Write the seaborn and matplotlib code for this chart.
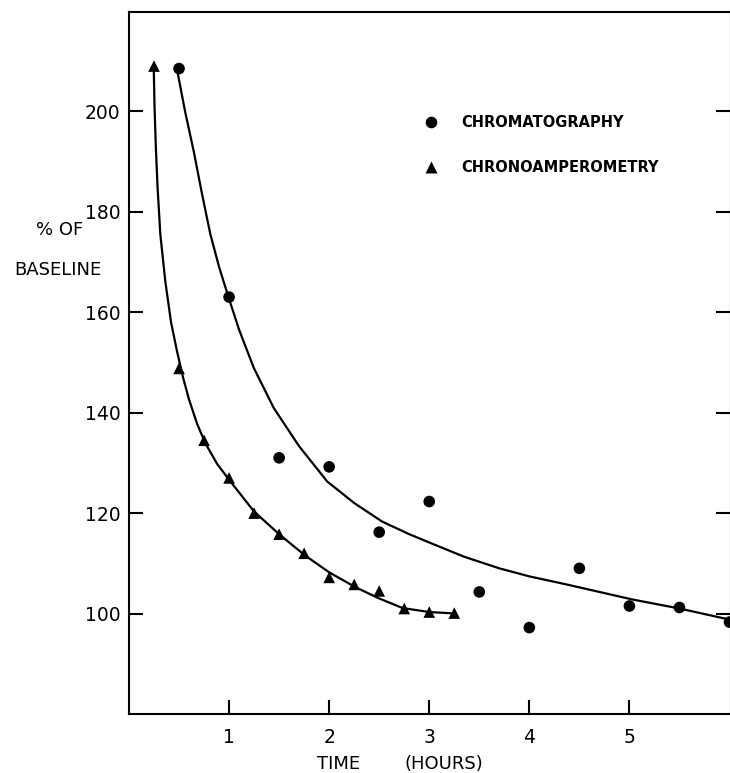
import numpy as np
import pandas as pd
import matplotlib
matplotlib.use("Agg")
import matplotlib.pyplot as plt
import seaborn as sns

# ---- data ----
chrom_t = [0.5, 1.0, 1.5, 2.0, 2.5, 3.0, 3.5, 4.0, 4.5, 5.0, 5.5, 6.0]
chrom_v = [208.5, 163.0, 131.0, 129.2, 116.2, 122.3, 104.3, 97.2, 109.0, 101.5, 101.2, 98.3]

amp_t = [0.25, 0.5, 0.75, 1.0, 1.25, 1.5, 1.75, 2.0, 2.25, 2.5, 2.75, 3.0, 3.25]
amp_v = [209.0, 148.8, 134.5, 127.0, 120.0, 115.8, 112.0, 107.2, 105.8, 104.5, 101.0, 100.3, 100.1]

# fitted curves
chrom_fit_t = [0.48, 0.56, 0.647, 0.73, 0.813, 0.9, 0.997, 1.1, 1.247, 1.447, 1.7, 1.98, 2.25, 2.53, 2.8, 3.03, 3.35, 3.7, 4.0, 4.37, 4.7, 5.03, 5.5, 6.0]
chrom_fit_v = [208.3, 200.0, 192.0, 183.5, 175.5, 169.0, 162.8, 156.5, 148.9, 140.9, 133.3, 126.3, 122.0, 118.3, 115.8, 113.9, 111.3, 109.0, 107.4, 105.8, 104.3, 102.8, 101.0, 98.8]

amp_fit_t = [0.247, 0.255, 0.268, 0.285, 0.313, 0.363, 0.42, 0.48, 0.54, 0.6, 0.68, 0.763, 0.88, 1.013, 1.25, 1.5, 1.75, 2.0, 2.267, 2.5, 2.733, 3.0, 3.267]
amp_fit_v = [209.0, 201.0, 193.0, 185.0, 175.5, 166.1, 158.0, 152.2, 147.0, 142.6, 137.8, 133.9, 129.8, 126.3, 120.3, 115.8, 111.7, 108.2, 105.2, 103.0, 101.1, 100.3, 100.0]

y_ticks = [100, 120, 140, 160, 180, 200]
x_ticks = [1, 2, 3, 4, 5]

label_chrom = "CHROMATOGRAPHY"
label_amp = "CHRONOAMPEROMETRY"

pts = pd.concat([
    pd.DataFrame({"t": chrom_t, "v": chrom_v, "method": label_chrom}),
    pd.DataFrame({"t": amp_t, "v": amp_v, "method": label_amp}),
], ignore_index=True)

# ---- figure ----
sns.set_style("ticks")
plt.rcParams["font.family"] = ["DejaVu Sans"]
for k in ["text.color", "axes.labelcolor", "xtick.color", "ytick.color", "axes.edgecolor"]:
    plt.rcParams[k] = "black"

W, H = 730, 773
fig = plt.figure(figsize=(W / 100, H / 100), dpi=100)
left_px, right_px, top_px, bot_px = 129, 729.5, 12.3, 714
ax = fig.add_axes([left_px / W, 1 - bot_px / H, (right_px - left_px) / W, (bot_px - top_px) / H])

sns.lineplot(x=chrom_fit_t, y=chrom_fit_v, ax=ax, color="black", lw=1.6, sort=False, legend=False)
sns.lineplot(x=amp_fit_t, y=amp_fit_v, ax=ax, color="black", lw=1.6, sort=False, legend=False)

sns.scatterplot(data=pts, x="t", y="v", style="method",
                markers={label_chrom: "o", label_amp: "^"},
                color="black", s=70, edgecolor="none", ax=ax, legend=True, clip_on=False)

ax.set_xlim(0.0, 6.0)
ax.set_ylim(80, 219.7)
ax.set_xticks(x_ticks)
ax.set_xticklabels([str(v) for v in x_ticks])
ax.set_yticks(y_ticks)
ax.set_yticklabels([str(v) for v in y_ticks])
ax.set_xlabel("")
ax.set_ylabel("")

for s in ax.spines.values():
    s.set_linewidth(1.5)
    s.set_color("black")
ax.spines["right"].set_linewidth(0.8)

ax.tick_params(axis="x", direction="in", length=10, width=1.5, pad=10, labelsize=13.5, colors="black")
ax.tick_params(axis="y", direction="in", length=10, width=1.5, pad=6, labelsize=13.5,
               right=True, colors="black")

handles, labels = ax.get_legend_handles_labels()
for h in handles:
    try:
        h.set_sizes([55])
    except Exception:
        pass
leg = ax.legend(handles, labels, loc="upper left", bbox_to_anchor=(0.49, 0.853),
                frameon=False, fontsize=10.5, handlelength=1.0, handletextpad=1.6,
                labelspacing=2.05, borderpad=0, borderaxespad=0)
for t in leg.get_texts():
    t.set_fontweight("bold")
    t.set_color("black")

fig.text(60 / W, 1 - 230 / H, "% OF", ha="center", va="center", fontsize=13, color="black")
fig.text(58 / W, 1 - 270 / H, "BASELINE", ha="center", va="center", fontsize=13, color="black")
fig.text(317 / W, 1 - 764 / H, "TIME", ha="left", va="center", fontsize=13, color="black")
fig.text(405 / W, 1 - 764 / H, "(HOURS)", ha="left", va="center", fontsize=13, color="black")

fig.savefig("out.png", dpi=100)
